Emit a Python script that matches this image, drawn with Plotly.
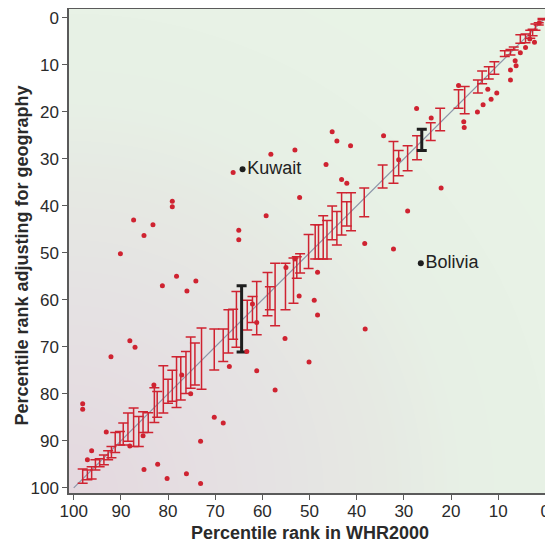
import numpy as np
import plotly.graph_objects as go

# error bars along the diagonal: x position, upper end (small rank), lower end
bar_x = [98.1, 97.1, 96.2, 95.4, 94.5, 93.6, 92.7, 92.0, 91.2, 90.2, 89.5, 88.5, 87.3, 86.2, 85.3,
         84.2, 82.9, 82.3, 81.0, 80.0, 79.1, 78.2, 77.3, 76.2, 75.2, 74.3, 72.9, 70.2, 68.3, 67.2,
         66.2, 65.5, 63.2, 62.1, 61.2, 58.9, 58.4, 57.3, 55.1, 53.4, 52.7, 52.0, 50.2, 48.8, 48.1,
         47.1, 46.3, 45.2, 44.2, 43.2, 42.1, 41.2, 38.4, 34.5, 32.2, 31.1, 29.2, 27.2, 24.3, 22.3,
         18.4, 17.1, 14.3, 13.4, 12.0, 10.8, 8.6, 7.4, 6.7, 5.3, 4.2, 3.2, 2.7, 2.1, 1.4, 0.6]
bar_top = [96.0, 96.2, 95.5, 94.0, 93.8, 93.0, 92.1, 91.2, 88.2, 88.0, 86.2, 84.1, 83.0, 84.8, 83.8,
           84.0, 78.7, 79.5, 74.0, 76.9, 75.0, 72.1, 72.1, 71.0, 67.9, 69.2, 66.0, 66.2, 66.2, 62.1,
           62.0, 58.2, 60.1, 59.3, 56.1, 54.2, 57.2, 52.2, 52.2, 51.1, 50.8, 50.2, 46.1, 44.0, 44.0,
           42.1, 43.1, 40.0, 41.2, 37.2, 39.1, 37.2, 36.2, 31.3, 26.3, 28.2, 27.2, 25.1, 22.3, 19.2,
           15.3, 14.6, 13.2, 11.3, 10.4, 9.3, 7.0, 6.7, 6.2, 3.6, 3.4, 2.6, 2.4, 1.3, 1.0, 0.1]
bar_bot = [99.0, 98.3, 98.1, 96.2, 95.5, 95.1, 94.0, 93.6, 92.5, 90.9, 90.9, 90.1, 91.2, 91.2, 88.2,
           88.2, 86.1, 85.0, 84.1, 82.0, 81.6, 82.9, 81.3, 79.9, 78.8, 78.1, 79.0, 74.9, 73.1, 71.3,
           68.4, 70.1, 66.4, 64.8, 67.4, 63.4, 62.1, 65.5, 62.1, 60.7, 55.4, 54.3, 53.3, 51.3, 51.3,
           51.3, 51.3, 47.2, 48.3, 46.2, 44.3, 45.3, 42.3, 36.2, 35.2, 33.6, 32.5, 30.2, 26.1, 24.0,
           19.2, 20.4, 16.0, 14.0, 13.0, 12.0, 8.2, 7.9, 6.8, 5.4, 5.3, 4.3, 3.8, 2.6, 1.5, 0.4]

# highlighted countries (black bars)
hl_x = [64.4, 26.2]
hl_top = [57.0, 23.7]
hl_bot = [71.1, 28.2]

# scattered country points
dot_x = [53.1, 58.2, 66.2, 52.1, 79.1, 79.1, 59.2, 87.3, 83.2, 65.0, 85.1, 65.0,
         90.1, 78.2, 81.2, 74.1, 76.0, 52.2, 88.1, 87.0, 92.1, 55.2, 50.1, 61.2, 67.0, 83.0,
         75.2, 57.3, 98.1, 98.1, 70.2, 68.3, 73.1, 93.1, 96.2, 97.1, 85.1, 82.2, 80.2, 76.1,
         73.1, 63.3, 62.1, 61.2, 85.3, 88.1, 77.1,
         45.2, 44.2, 41.3, 34.3, 27.3, 46.5, 43.2, 42.1, 31.1, 24.2, 22.1, 29.2, 38.3, 32.2,
         18.4, 17.3, 17.2, 14.4, 13.2, 11.5, 10.3, 12.2, 7.4, 7.4, 6.2, 6.4, 5.3, 4.2, 2.3,
         3.3, 1.3, 48.3, 49.0, 48.3, 38.2, 55.0, 53.1]
dot_y = [28.1, 29.0, 32.9, 38.2, 39.0, 40.2, 42.1, 43.0, 44.0, 45.2, 46.3, 47.2,
         50.2, 55.0, 57.0, 56.0, 58.1, 59.2, 68.7, 70.1, 72.1, 68.2, 73.2, 75.1, 74.2, 78.1,
         80.0, 79.2, 82.1, 83.3, 85.0, 86.2, 90.1, 88.1, 92.1, 94.0, 96.1, 95.0, 98.0, 97.0,
         99.1, 71.0, 60.9, 64.8, 88.9, 91.1, 76.0,
         24.2, 26.2, 27.2, 25.1, 19.3, 31.2, 34.4, 35.2, 30.2, 21.3, 36.2, 41.1, 48.0, 49.2,
         14.4, 22.1, 23.3, 20.0, 18.5, 17.3, 16.0, 15.2, 13.2, 11.1, 10.2, 9.1, 7.4, 6.3, 5.2,
         4.5, 1.1, 54.1, 60.1, 63.2, 66.2, 53.1, 51.3]

label_names = ["Kuwait", "Bolivia"]
label_x = [64.2, 26.4]
label_y = [32.2, 52.2]

xticks = [100, 90, 80, 70, 60, 50, 40, 30, 20, 10, 0]
yticks = [0, 10, 20, 30, 40, 50, 60, 70, 80, 90, 100]

red = "#cf2331"
font = "Liberation Sans, Arial"

# soft background shading (pink in the lower left corner fading to green)
gx = np.linspace(101.5, -1.5, 50)
gy = np.linspace(-2.5, 101.5, 50)
GX, GY = np.meshgrid(gx, gy)
gz = np.sqrt((101 - GX) ** 2 + (101 - GY) ** 2)
background = go.Heatmap(
    x=gx, y=gy, z=gz, zmin=0, zmax=120, zsmooth="best", showscale=False, hoverinfo="skip",
    colorscale=[[0, "rgb(228,216,223)"], [0.35, "rgb(229,226,227)"], [0.55, "rgb(230,233,227)"],
                [0.7, "rgb(231,240,229)"], [1, "rgb(232,243,230)"]]
)

diag = go.Scatter(x=[100, 0], y=[100, 0], mode="lines",
                  line=dict(color="#8d95a8", width=1.2), hoverinfo="skip")

bars = go.Scatter(
    x=bar_x, y=bar_top, mode="markers", marker=dict(size=1, color="rgba(0,0,0,0)"),
    error_y=dict(type="data", symmetric=False,
                 array=[b - t for t, b in zip(bar_top, bar_bot)],
                 arrayminus=[0] * len(bar_top),
                 color=red, thickness=1.5, width=5)
)

hl = go.Scatter(
    x=hl_x, y=hl_top, mode="markers", marker=dict(size=1, color="rgba(0,0,0,0)"),
    error_y=dict(type="data", symmetric=False,
                 array=[b - t for t, b in zip(hl_top, hl_bot)],
                 arrayminus=[0, 0], color="#1e1e1e", thickness=3, width=5)
)

dots = go.Scatter(x=dot_x, y=dot_y, mode="markers", marker=dict(size=5, color=red))

labels = go.Scatter(
    x=label_x, y=label_y, mode="markers+text", text=label_names, textposition="middle right",
    marker=dict(size=6, color="#1e1e1e"),
    textfont=dict(family=font, size=18, color="#222")
)

fig = go.Figure(data=[background, diag, bars, hl, dots, labels])

axis_style = dict(
    showline=True, mirror=True, linecolor="#5a5a5a", linewidth=1.5,
    ticks="outside", ticklen=5, tickcolor="#5a5a5a", tickwidth=1.2,
    showgrid=False, zeroline=False, automargin=False,
    tickfont=dict(family=font, size=17, color="#2a2a2a"),
)

fig.update_xaxes(range=[101, -1.2], tickvals=xticks, ticklabelstandoff=-3, **axis_style)
fig.update_yaxes(range=[101.1, -1.9], tickvals=yticks, **axis_style)

# axis titles placed as annotations so the plot area stays put
fig.add_annotation(text="<b>Percentile rank in WHR2000</b>", xref="paper", yref="paper",
                   x=0.5, y=-0.083, xanchor="center", yanchor="middle", showarrow=False,
                   font=dict(family=font, size=18, color="#2a2a2a"))
fig.add_annotation(text="<b>Percentile rank adjusting for geography</b>", xref="paper", yref="paper",
                   x=-0.098, y=0.49, xanchor="center", yanchor="middle", showarrow=False,
                   textangle=-90, font=dict(family=font, size=18, color="#2a2a2a"))

# the page body adds an 8px margin, so the figure is made 8px smaller
fig.update_layout(
    width=545, height=536, showlegend=False,
    margin=dict(l=61, r=2, t=1, b=51),
    paper_bgcolor="white", plot_bgcolor="white",
)

fig.write_html("out.html")
